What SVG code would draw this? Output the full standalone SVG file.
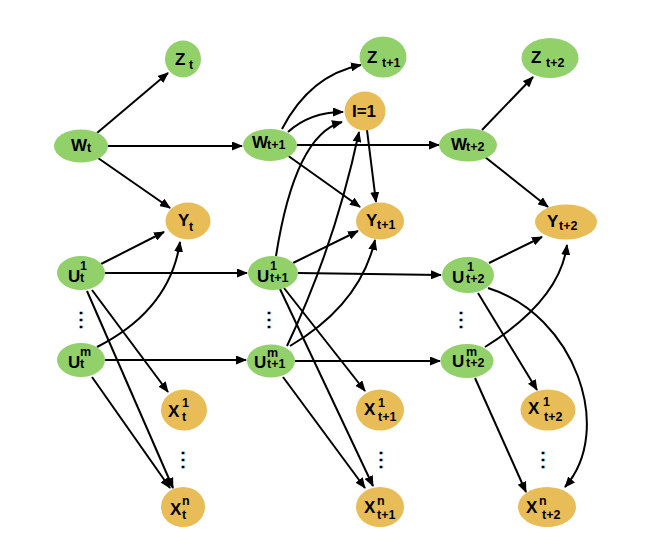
<svg xmlns="http://www.w3.org/2000/svg" width="652" height="548" viewBox="0 0 652 548">
<defs>
<marker id="ah" markerWidth="11" markerHeight="9" refX="10" refY="4.5" orient="auto" markerUnits="userSpaceOnUse">
<path d="M0,0 L11,4.5 L0,9 z" fill="#000"/>
</marker>
<style>
.g{fill:#92D06A}
.o{fill:#E8BC56}
text{font-family:"Liberation Sans",Arial,sans-serif;font-weight:bold;fill:#000}
.m{font-size:17px}
.s{font-size:12.5px}
.d{font-size:20px;font-weight:bold}
#edges path{fill:none;stroke:#000;stroke-width:2;marker-end:url(#ah)}
</style>
</defs>
<rect width="652" height="548" fill="#fff"/>
<g id="edges">
<path d="M97,133 L168,73"/>
<path d="M108,146 L242,146"/>
<path d="M98,158 L170,208"/>
<path d="M101,264 L164,232"/>
<path d="M97,347 Q170,310 180,242"/>
<path d="M105,273 L247,273"/>
<path d="M105,360 L246,360"/>
<path d="M92,290 L168,392"/>
<path d="M87,291 L173,488"/>
<path d="M92,377 L170,488"/>
<path d="M282,129 Q310,75 361,65"/>
<path d="M288,132 Q310,112 343,112"/>
<path d="M297,145 L439,145"/>
<path d="M287,155 L360,207"/>
<path d="M367,130 L376,202"/>
<path d="M276,256 Q295,135 342,122"/>
<path d="M287,346 Q335,245 359,132"/>
<path d="M293,263 L358,231"/>
<path d="M290,346 Q360,305 375,240"/>
<path d="M298,273 L441,275"/>
<path d="M295,361 L440,361"/>
<path d="M284,288 L365,391"/>
<path d="M280,289 L373,486"/>
<path d="M283,377 L365,488"/>
<path d="M482,130 L533,77"/>
<path d="M485,157 L548,207"/>
<path d="M489,263 L542,237"/>
<path d="M485,347 Q560,300 567,245"/>
<path d="M478,293 L537,390"/>
<path d="M488,288 C575,315 615,430 565,487"/>
<path d="M475,378 L526,492"/>
</g>
<g id="Zt"><ellipse class="g" cx="183" cy="59" rx="18" ry="18.5"/><text><tspan class="m" x="175" y="65">Z</tspan><tspan class="s" x="189" y="69">t</tspan></text></g>
<g id="Wt"><ellipse class="g" cx="81" cy="146" rx="27" ry="16.5"/><text><tspan class="m" x="71" y="151">W</tspan><tspan class="s" x="87" y="152">t</tspan></text></g>
<g id="Yt"><ellipse class="o" cx="188" cy="221" rx="22.5" ry="18.5"/><text><tspan class="m" x="178" y="226">Y</tspan><tspan class="s" x="189" y="231">t</tspan></text></g>
<g id="Ut1"><ellipse class="g" cx="81" cy="273" rx="24" ry="17"/><text><tspan class="m" x="68" y="282">U</tspan><tspan class="s" x="80" y="270">1</tspan><tspan class="s" x="80" y="282">t</tspan></text></g>
<g id="Utm"><ellipse class="g" cx="81" cy="360" rx="24" ry="17"/><text><tspan class="m" x="68" y="368">U</tspan><tspan class="s" x="80" y="356">m</tspan><tspan class="s" x="80" y="368">t</tspan></text></g>
<g id="Xt1"><ellipse class="o" cx="184" cy="410" rx="23" ry="20.5"/><text><tspan class="m" x="168" y="417">X</tspan><tspan class="s" x="182" y="407">1</tspan><tspan class="s" x="182" y="421">t</tspan></text></g>
<g id="Xtn"><ellipse class="o" cx="183" cy="507" rx="22" ry="20"/><text><tspan class="m" x="170" y="515">X</tspan><tspan class="s" x="182" y="505">n</tspan><tspan class="s" x="182" y="519">t</tspan></text></g>
<g id="Zt1"><ellipse class="g" cx="383" cy="57" rx="23.5" ry="20.5"/><text><tspan class="m" x="367" y="63">Z</tspan><tspan class="s" x="382" y="67">t+1</tspan></text></g>
<g id="I1"><ellipse class="o" cx="365" cy="111" rx="20.5" ry="19.5"/><text class="m" x="364" y="117" text-anchor="middle">I=1</text></g>
<g id="Wt1"><ellipse class="g" cx="270" cy="145" rx="27" ry="16"/><text><tspan class="m" x="252" y="148">W</tspan><tspan class="s" x="267" y="149">t+1</tspan></text></g>
<g id="Yt1"><ellipse class="o" cx="380" cy="221" rx="24" ry="18.5"/><text><tspan class="m" x="366" y="226">Y</tspan><tspan class="s" x="377" y="229">t+1</tspan></text></g>
<g id="Ut11"><ellipse class="g" cx="273" cy="273" rx="25" ry="17"/><text><tspan class="m" x="257" y="282">U</tspan><tspan class="s" x="270" y="270">1</tspan><tspan class="s" x="270" y="282">t+1</tspan></text></g>
<g id="Ut1m"><ellipse class="g" cx="271" cy="361" rx="24" ry="16.5"/><text><tspan class="m" x="254" y="368">U</tspan><tspan class="s" x="267" y="357">m</tspan><tspan class="s" x="267" y="368">t+1</tspan></text></g>
<g id="Xt11"><ellipse class="o" cx="380" cy="410" rx="24" ry="20.5"/><text><tspan class="m" x="364" y="415">X</tspan><tspan class="s" x="378" y="407">1</tspan><tspan class="s" x="378" y="421">t+1</tspan></text></g>
<g id="Xt1n"><ellipse class="o" cx="380" cy="507" rx="24" ry="20"/><text><tspan class="m" x="364" y="513">X</tspan><tspan class="s" x="377" y="505">n</tspan><tspan class="s" x="377" y="519">t+1</tspan></text></g>
<g id="Zt2"><ellipse class="g" cx="550" cy="58" rx="28.5" ry="20"/><text><tspan class="m" x="531" y="63">Z</tspan><tspan class="s" x="546" y="67">t+2</tspan></text></g>
<g id="Wt2"><ellipse class="g" cx="468" cy="145" rx="29" ry="16.5"/><text><tspan class="m" x="451" y="150">W</tspan><tspan class="s" x="466" y="151">t+2</tspan></text></g>
<g id="Yt2"><ellipse class="o" cx="566" cy="222" rx="31" ry="17.5"/><text><tspan class="m" x="547" y="227">Y</tspan><tspan class="s" x="559" y="230">t+2</tspan></text></g>
<g id="Ut21"><ellipse class="g" cx="468" cy="275" rx="26" ry="18"/><text><tspan class="m" x="452" y="283">U</tspan><tspan class="s" x="467" y="271">1</tspan><tspan class="s" x="466" y="283">t+2</tspan></text></g>
<g id="Ut2m"><ellipse class="g" cx="467" cy="361" rx="26.5" ry="17"/><text><tspan class="m" x="452" y="367">U</tspan><tspan class="s" x="466" y="356">m</tspan><tspan class="s" x="466" y="367">t+2</tspan></text></g>
<g id="Xt21"><ellipse class="o" cx="548" cy="410" rx="27.5" ry="20.5"/><text><tspan class="m" x="528" y="414">X</tspan><tspan class="s" x="543" y="406">1</tspan><tspan class="s" x="544" y="421">t+2</tspan></text></g>
<g id="Xt2n"><ellipse class="o" cx="547" cy="507" rx="29" ry="20"/><text><tspan class="m" x="526" y="513">X</tspan><tspan class="s" x="539" y="505">n</tspan><tspan class="s" x="542" y="519">t+2</tspan></text></g>
<g id="dots">
<text class="d" x="81" y="326" text-anchor="middle">⋮</text>
<text class="d" x="183" y="466" text-anchor="middle">⋮</text>
<text class="d" x="269" y="326" text-anchor="middle">⋮</text>
<text class="d" x="381" y="466" text-anchor="middle">⋮</text>
<text class="d" x="461" y="326" text-anchor="middle">⋮</text>
<text class="d" x="543" y="466" text-anchor="middle">⋮</text>
</g>
</svg>
